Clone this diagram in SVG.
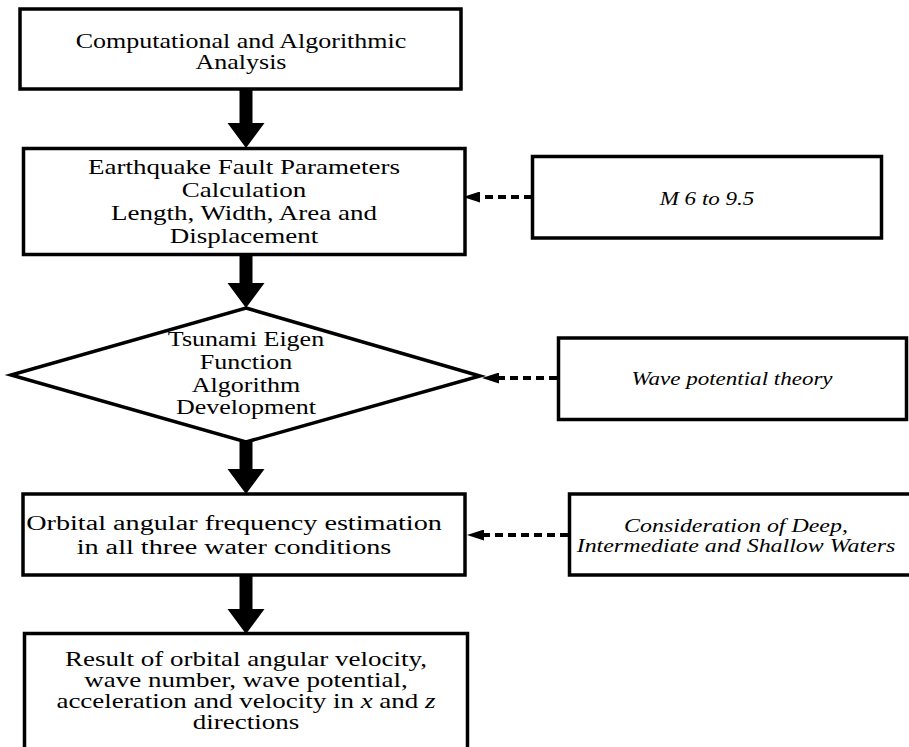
<svg xmlns="http://www.w3.org/2000/svg" width="909" height="747" viewBox="0 0 909 747">
<style>
.box{fill:#fff;stroke:#000;stroke-width:3.5}
.t{font-family:"Liberation Serif","Times New Roman",serif;font-size:20px;fill:#000;text-anchor:middle}
.it{font-family:"Liberation Serif","Times New Roman",serif;font-size:18px;font-style:italic;fill:#000;text-anchor:middle}
.thick{fill:#000;stroke:none}
.dot{fill:none;stroke:#000;stroke-width:4;stroke-dasharray:8 5}
</style>
<defs>
<marker id="head" markerUnits="userSpaceOnUse" markerWidth="17" markerHeight="11" refX="0" refY="5.5" orient="auto">
<path d="M0,0 L17,5.5 L0,11 z" fill="#000"/>
</marker>
</defs>
<rect width="909" height="747" fill="#fff"/>
<g id="connectors">
<polygon class="thick" points="239.5,90 252.5,90 252.5,123 264.5,123 246,148 227.5,123 239.5,123"/>
<polygon class="thick" points="239.5,255 252.5,255 252.5,283 264.5,283 246,308 227.5,283 239.5,283"/>
<polygon class="thick" points="239.5,442 252.5,442 252.5,469 264.5,469 246,494 227.5,469 239.5,469"/>
<polygon class="thick" points="239.5,576 252.5,576 252.5,609 264.5,609 246,634 227.5,609 239.5,609"/>
<line class="dot" x1="532" y1="197" x2="480" y2="197" marker-end="url(#head)"/>
<line class="dot" x1="557" y1="378" x2="499" y2="378" marker-end="url(#head)"/>
<line class="dot" x1="568" y1="535" x2="484" y2="535" marker-end="url(#head)"/>
</g>
<g id="n1">
<rect class="box" x="20" y="9" width="441" height="80"/>
<g transform="translate(241,0) scale(1.3,1)">
<text class="t" x="0" y="48">Computational and Algorithmic</text>
<text class="t" x="0" y="69">Analysis</text>
</g>
</g>
<g id="n2">
<rect class="box" x="23.5" y="148.5" width="441.5" height="106"/>
<g transform="translate(244,0) scale(1.35,1)">
<text class="t" x="0" y="174">Earthquake Fault Parameters</text>
<text class="t" x="0" y="197">Calculation</text>
<text class="t" x="0" y="220">Length, Width, Area and</text>
<text class="t" x="0" y="243">Displacement</text>
</g>
</g>
<g id="n3">
<polygon class="box" points="246,308 480,376 246,442 11,375"/>
<g transform="translate(246,0) scale(1.3,1)">
<text class="t" x="0" y="346">Tsunami Eigen</text>
<text class="t" x="0" y="369">Function</text>
<text class="t" x="0" y="392">Algorithm</text>
<text class="t" x="0" y="414">Development</text>
</g>
</g>
<g id="n4">
<rect class="box" x="23" y="494" width="442" height="81"/>
<g transform="translate(234,0) scale(1.41,1)">
<text class="t" x="0" y="530">Orbital angular frequency estimation</text>
<text class="t" x="0" y="554">in all three water conditions</text>
</g>
</g>
<g id="n5">
<path class="box" d="M24.5,760 L24.5,633.5 L467.5,633.5 L467.5,760"/>
<g transform="translate(246,0) scale(1.35,1)">
<text class="t" x="0" y="666">Result of orbital angular velocity,</text>
<text class="t" x="0" y="687">wave number, wave potential,</text>
<text class="t" x="0" y="708">acceleration and velocity in <tspan font-style="italic">x</tspan> and <tspan font-style="italic">z</tspan></text>
<text class="t" x="0" y="729">directions</text>
</g>
</g>
<g id="r1">
<rect class="box" x="532.5" y="156.5" width="349" height="81.5"/>
<g transform="translate(707,0) scale(1.28,1)">
<text class="it" x="0" y="205">M 6 to 9.5</text>
</g>
</g>
<g id="r2">
<rect class="box" x="558.5" y="338" width="348" height="81.5"/>
<g transform="translate(732,0) scale(1.28,1)">
<text class="it" x="0" y="385">Wave potential theory</text>
</g>
</g>
<g id="r3">
<path class="box" d="M915,494 L569.5,494 L569.5,575 L915,575"/>
<g transform="translate(736,0) scale(1.33,1)">
<text class="it" x="0" y="532">Consideration of Deep,</text>
<text class="it" x="0" y="552">Intermediate and Shallow Waters</text>
</g>
</g>
</svg>
